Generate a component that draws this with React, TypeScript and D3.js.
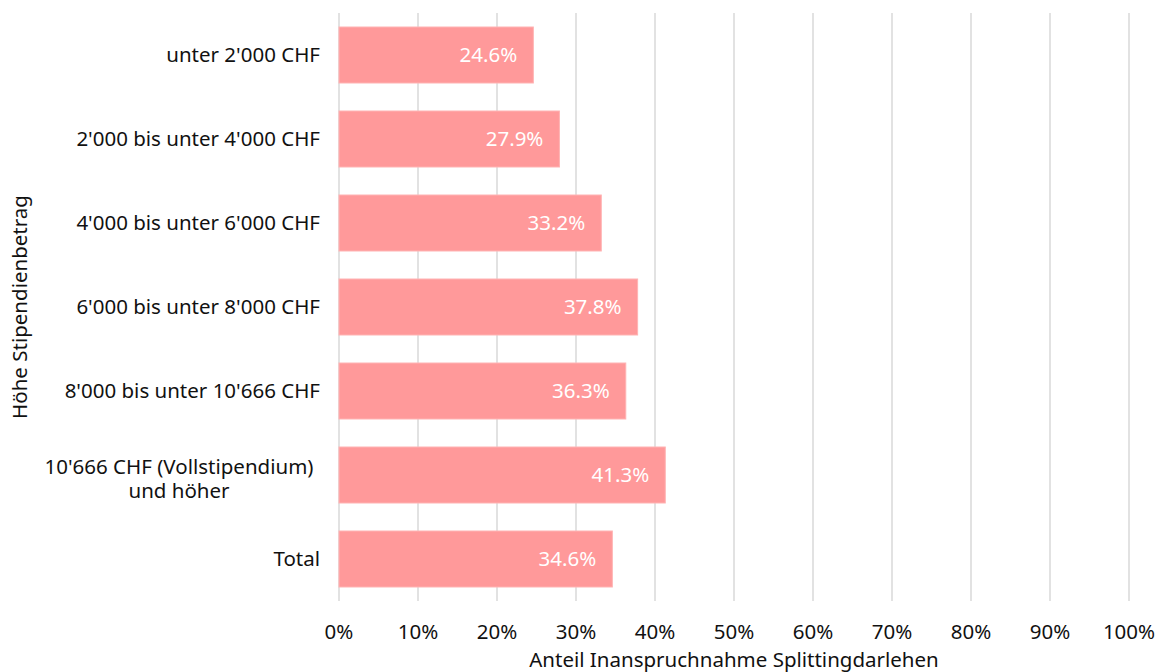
import { useEffect, useRef } from "react";
import * as d3 from "d3";

const categories = [
  ["unter 2'000 CHF"],
  ["2'000 bis unter 4'000 CHF"],
  ["4'000 bis unter 6'000 CHF"],
  ["6'000 bis unter 8'000 CHF"],
  ["8'000 bis unter 10'666 CHF"],
  ["10'666 CHF (Vollstipendium)", "und höher"],
  ["Total"],
];
const values = [24.6, 27.9, 33.2, 37.8, 36.3, 41.3, 34.6];
const xTicks = [0, 10, 20, 30, 40, 50, 60, 70, 80, 90, 100];

const W = 1159;
const H = 672;
const FONT = "'Noto Sans', sans-serif";
const FS = "20.5px";

const App = () => {
  const svgRef = useRef<SVGSVGElement>(null);

  useEffect(() => {
    if (!svgRef.current) return;
    const svg = d3.select(svgRef.current);
    svg.selectAll("*").remove();

    const left = 339;
    const right = 1129;
    const top = 13;
    const bottom = 601;

    const x = d3.scaleLinear().domain([0, 100]).range([left, right]);
    const y = d3
      .scaleBand<number>()
      .domain(d3.range(categories.length))
      .range([top, bottom])
      .paddingInner(1 / 3)
      .paddingOuter(1 / 6);

    // gridlines
    svg
      .append("g")
      .selectAll("line")
      .data(xTicks)
      .join("line")
      .attr("x1", (d) => x(d))
      .attr("x2", (d) => x(d))
      .attr("y1", top)
      .attr("y2", bottom)
      .attr("stroke", "#d9d9d9")
      .attr("stroke-width", 1.5);

    // bars
    svg
      .append("g")
      .selectAll("rect")
      .data(values)
      .join("rect")
      .attr("x", x(0))
      .attr("y", (_, i) => y(i)!)
      .attr("width", (d) => x(d) - x(0))
      .attr("height", y.bandwidth())
      .attr("fill", "#ff999a")
      .attr("stroke", "#ffb3b3")
      .attr("stroke-width", 1);

    // value labels
    svg
      .append("g")
      .selectAll("text")
      .data(values)
      .join("text")
      .attr("x", (d) => x(d) - 16)
      .attr("y", (_, i) => y(i)! + y.bandwidth() / 2)
      .attr("dy", "0.35em")
      .attr("text-anchor", "end")
      .attr("fill", "#ffffff")
      .style("font-family", FONT)
      .style("font-size", FS)
      .text((d) => `${d.toFixed(1)}%`);

    // category labels
    const cat = svg
      .append("g")
      .selectAll("text")
      .data(categories)
      .join("text")
      .attr("fill", "#111")
      .style("font-family", FONT)
      .style("font-size", FS);
    cat.each(function (lines, i) {
      const t = d3.select(this);
      const cy = y(i)! + y.bandwidth() / 2;
      const single = lines.length === 1;
      t.attr("text-anchor", single ? "end" : "middle");
      lines.forEach((line, k) => {
        t.append("tspan")
          .attr("x", single ? 320 : 179)
          .attr("y", single ? cy : cy - 8 + k * 24)
          .attr("dy", "0.35em")
          .text(line);
      });
    });

    // x tick labels
    svg
      .append("g")
      .selectAll("text")
      .data(xTicks)
      .join("text")
      .attr("x", (d) => x(d))
      .attr("y", 632)
      .attr("dy", "0.35em")
      .attr("text-anchor", "middle")
      .attr("fill", "#111")
      .style("font-family", FONT)
      .style("font-size", FS)
      .text((d) => `${d}%`);

    // axis titles
    svg
      .append("text")
      .attr("x", (left + right) / 2)
      .attr("y", 660)
      .attr("dy", "0.35em")
      .attr("text-anchor", "middle")
      .attr("fill", "#111")
      .style("font-family", FONT)
      .style("font-size", FS)
      .text("Anteil Inanspruchnahme Splittingdarlehen");

    svg
      .append("text")
      .attr("transform", `translate(20,${(top + bottom) / 2}) rotate(-90)`)
      .attr("dy", "0.35em")
      .attr("text-anchor", "middle")
      .attr("fill", "#111")
      .style("font-family", FONT)
      .style("font-size", FS)
      .text("Höhe Stipendienbetrag");
  }, []);

  return (
    <svg
      ref={svgRef}
      width={W}
      height={H}
      style={{ position: "absolute", left: 0, top: 0, display: "block", background: "#fff" }}
    />
  );
};

export default App;
